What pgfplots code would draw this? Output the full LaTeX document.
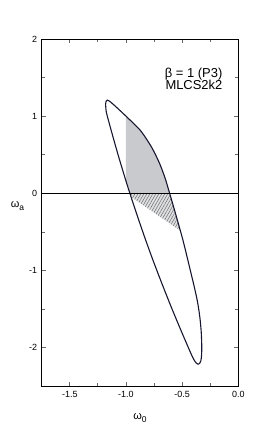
\documentclass[border=0pt]{standalone}
\usepackage{fontspec}
\setmainfont{Liberation Sans}
\setsansfont{Liberation Sans}
\usepackage{pgfplots}
\pgfplotsset{compat=1.18}
\usetikzlibrary{patterns.meta}
\definecolor{greyfill}{RGB}{200,202,205}
\definecolor{hatchbg}{RGB}{222,223,225}
\definecolor{curve}{RGB}{22,22,48}
\begin{document}
\begin{tikzpicture}
\path[use as bounding box] (-41.7bp,-57bp) rectangle (214.3bp,386bp);
\begin{axis}[
  at={(0,0)}, anchor=south west,
  scale only axis,
  width=196.6bp, height=346.7bp,
  xmin=-1.75, xmax=0, ymin=-2.5, ymax=2,
  xtick={-1.5,-1,-0.5,0}, ytick={-2,-1,0,1,2},
  minor x tick num=1, minor y tick num=1,
  xtick pos=both, ytick pos=both,
  tick align=inside,
  major tick length=4bp, minor tick length=3bp,
  tick style={gray!80!black, line width=0.8pt},
  axis line style={black, line width=0.9pt},
  /pgf/number format/.cd, fixed, assume math mode=true,
  /pgfplots/.cd,
  xticklabel={\pgfmathprintnumber[fixed,fixed zerofill,precision=1]{\tick}},
  yticklabel={\pgfmathprintnumber[fixed,precision=0]{\tick}},
  ticklabel style={font=\fontsize{9}{10}\selectfont},
  yticklabel style={xshift=-1bp},
  xticklabel style={yshift=-1.5bp},
  xlabel={ω\raisebox{-0.55ex}{\fontsize{8.5}{9}\selectfont 0}},
  ylabel={ω\raisebox{-0.55ex}{\fontsize{8.5}{9}\selectfont a}},
  label style={font=\fontsize{11}{12}\selectfont},
  xlabel style={at={(axis description cs:0.5,-0.092)}, anchor=center},
  ylabel style={at={(axis description cs:-0.123,0.52)}, anchor=center, rotate=-90},
  clip=true,
]
% shaded region (w0 > -1, wa > 0)
\addplot[fill=greyfill, draw=none] coordinates {
 (-1,1.0) (-1,0.16) (-0.987,0.1) (-0.965,0) (-0.611,0) (-0.652,0.2)
 (-0.704,0.4) (-0.772,0.6) (-0.862,0.8) (-0.925,0.9) (-1,1.0)} -- cycle;
% hatched region
\addplot[fill=hatchbg, draw=none] coordinates {
 (-0.965,0) (-0.955,-0.045) (-0.517,-0.483) (-0.532,-0.4) (-0.571,-0.2) (-0.611,0)} -- cycle;
\addplot[pattern={Lines[angle=60, distance=2.6pt, line width=0.45pt]}, pattern color=gray!80!black, draw=none] coordinates {
 (-0.965,0) (-0.955,-0.045) (-0.517,-0.483) (-0.532,-0.4) (-0.571,-0.2) (-0.611,0)} -- cycle;
% contour
\addplot[curve, line width=1.1pt, smooth, tension=0.5] coordinates {
 (-0.897,-0.3) (-0.826,-0.6) (-0.751,-0.9) (-0.672,-1.2) (-0.59,-1.5)
 (-0.504,-1.8) (-0.445,-2.0) (-0.415,-2.1) (-0.393,-2.163) (-0.374,-2.203)
 (-0.358,-2.217) (-0.344,-2.207) (-0.334,-2.175) (-0.328,-2.12) (-0.325,-2.0)
 (-0.33,-1.8) (-0.343,-1.6) (-0.364,-1.4) (-0.394,-1.2) (-0.427,-1.0)
 (-0.46,-0.8) (-0.494,-0.6) (-0.532,-0.4) (-0.571,-0.2) (-0.611,0)
 (-0.652,0.2) (-0.704,0.4) (-0.772,0.6) (-0.862,0.8) (-0.927,0.9)
 (-0.998,1.0) (-1.06,1.085) (-1.11,1.152) (-1.145,1.195) (-1.165,1.211)
 (-1.177,1.197) (-1.181,1.16) (-1.179,1.11) (-1.174,1.05) (-1.147,0.9)
 (-1.109,0.7) (-1.07,0.5) (-1.029,0.3) (-0.987,0.1) (-0.965,0)
 (-0.897,-0.3)};
% zero line
\addplot[black, line width=1.1pt] coordinates {(-1.75,0) (0,0)};
\node[anchor=base east, font=\fontsize{13}{14}\selectfont, inner sep=0pt] at (axis cs:-0.14,1.504) {β = 1 (P3)};
\node[anchor=base east, font=\fontsize{13}{14}\selectfont, inner sep=0pt] at (axis cs:-0.14,1.342) {MLCS2k2};
\end{axis}
\end{tikzpicture}
\end{document}
